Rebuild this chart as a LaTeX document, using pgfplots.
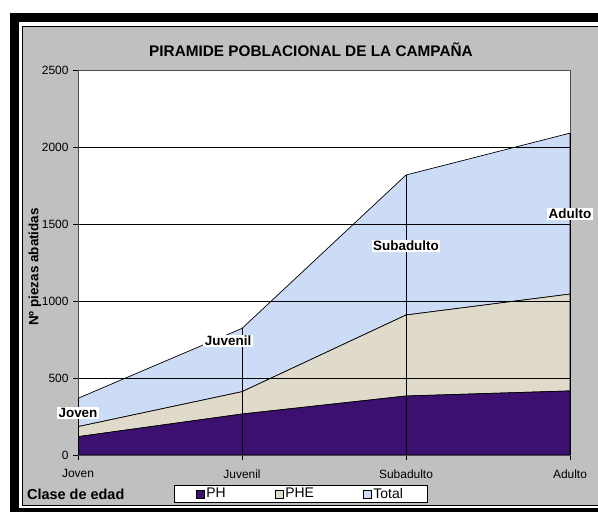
\documentclass[border=0pt]{standalone}
\usepackage{pgfplots}
\usepackage{pgfplotstable}
\pgfplotsset{compat=1.18}
\usepackage{fontspec}
\setmainfont{Liberation Sans}
\definecolor{chartgray}{RGB}{192,192,192}
\definecolor{phcol}{RGB}{60,16,110}
\definecolor{phecol}{RGB}{224,218,203}
\definecolor{totcol}{RGB}{205,220,246}
\pgfplotstableread{
x PH PHE Total
0 119 65 184
1 266 145 411
2 383 526 909
3 416 629 1045
}\datatable
\begin{document}
\begin{tikzpicture}[x=1bp,y=1bp]
\useasboundingbox (0,0) rectangle (598,512);
\begin{scope}
\clip (0,0) rectangle (598,512);
\fill[white] (0,0) rectangle (598,512);
\fill[black] (10,-5) rectangle (610,499);
\fill[white] (19,4) rectangle (610,490);
\fill[chartgray] (22,7) rectangle (610,486);
\draw[black, line width=0.8bp] (610,486) -- (22,486) -- (22,7) -- (610,7);
\end{scope}
\begin{axis}[
  at={(78bp,57bp)}, anchor=south west,
  scale only axis, width=492bp, height=385bp,
  xmin=0, xmax=3, ymin=0, ymax=2500,
  stack plots=y, area style,
  axis background/.style={fill=white},
  xtick={0,1,2,3}, xticklabels={Joven,Juvenil,Subadulto,Adulto},
  ytick={0,500,1000,1500,2000,2500}, yticklabels={0,500,1000,1500,2000,2500},
  xtick pos=left, ytick pos=left,
  tick align=outside, major tick length=5bp,
  tick style={black, line width=0.6bp},
  ymajorgrids, grid style={black, line width=0.6bp},
  axis line style={draw=gray!60!black, line width=0.7bp},
  ticklabel style={font=\fontsize{12}{14}\selectfont},
  xticklabel style={yshift=-6bp},
  yticklabel style={xshift=-1bp},
  legend style={at={(0.452,-0.101)}, anchor=center, draw=black, fill=white,
    font=\fontsize{14}{16}\selectfont, legend columns=3,
    inner ysep=0.5bp, inner xsep=22bp,
    /tikz/every even column/.append style={column sep=47bp}},
  legend image code/.code={\draw[#1,draw=black,line width=0.5bp] (0bp,-4bp) rectangle (8bp,4bp);},
]
\addplot[fill=phcol, draw=black, line width=0.7bp] table[x=x,y=PH]{\datatable} \closedcycle;
\addplot[fill=phecol, draw=black, line width=0.7bp] table[x=x,y=PHE]{\datatable} \closedcycle;
\addplot[fill=totcol, draw=black, line width=0.7bp] table[x=x,y=Total]{\datatable} \closedcycle;
\legend{PH,PHE,Total}
\end{axis}
\begin{axis}[
  at={(78bp,57bp)}, anchor=south west,
  scale only axis, width=492bp, height=385bp,
  xmin=0, xmax=3, ymin=0, ymax=2500,
  hide axis, clip=false,
]
\addplot[ycomb, black, line width=0.7bp, mark=none] table[x=x, y expr=\thisrow{PH}+\thisrow{PHE}+\thisrow{Total}]{\datatable};
\begin{scope}[every node/.style={fill=white, inner sep=1.5bp, font=\bfseries\fontsize{13.5}{15}\selectfont}]
\node at (axis cs:0,273) {Joven};
\node at (axis cs:0.915,740) {Juvenil};
\node at (axis cs:2,1357) {Subadulto};
\node at (axis cs:3,1565) {Adulto};
\end{scope}
\end{axis}
\node[font=\bfseries\fontsize{15.4}{18}\selectfont] at (311,462) {PIRAMIDE POBLACIONAL DE LA CAMPAÑA};
\node[rotate=90, font=\bfseries\fontsize{13.5}{15}\selectfont] at (35,245) {Nº piezas abatidas};
\node[anchor=west, inner sep=0pt, font=\bfseries\fontsize{14.5}{16}\selectfont] at (27,18) {Clase de edad};
\end{tikzpicture}
\end{document}
